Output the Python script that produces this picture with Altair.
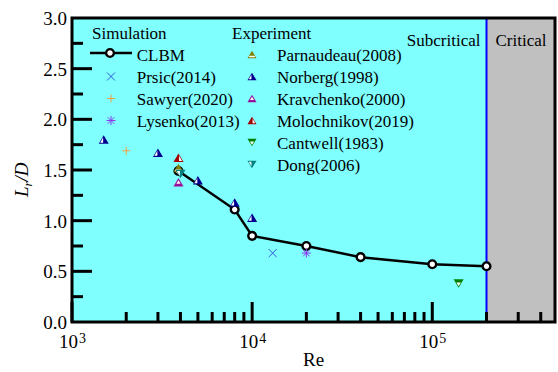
import altair as alt
import pandas as pd

# ---------------- data ----------------
# CLBM recirculation length vs Reynolds number
clbm_re = [3900, 8000, 10000, 20000, 40000, 100000, 200000]
clbm_lr = [1.49, 1.11, 0.85, 0.75, 0.64, 0.57, 0.55]

# other simulations
prsic_re, prsic_lr = [13000], [0.68]
sawyer_re, sawyer_lr = [2000], [1.69]
lysenko_re, lysenko_lr = [20000], [0.68]

# experiments
parnaudeau_re, parnaudeau_lr = [3900], [1.52]
norberg_re = [1500, 3000, 5000, 8000, 10000]
norberg_lr = [1.80, 1.67, 1.40, 1.18, 1.03]
kravchenko_re, kravchenko_lr = [3900], [1.38]
molochnikov_re, molochnikov_lr = [3900], [1.62]
cantwell_re, cantwell_lr = [140000], [0.38]
dong_re, dong_lr = [4000], [1.46]

# axis ticks and labels
x_major = [1000, 10000, 100000]
x_exponents = ["3", "4", "5"]
x_minor = [2000, 3000, 4000, 5000, 6000, 7000, 8000, 9000,
           20000, 30000, 40000, 50000, 60000, 70000, 80000, 90000,
           200000, 300000, 400000]
y_labels = [0.0, 0.5, 1.0, 1.5, 2.0, 2.5, 3.0]
y_major = [0.5, 1.0, 1.5, 2.0, 2.5]
y_minor = [0.25, 0.75, 1.25, 1.75, 2.25, 2.75]

# ---------------- layout ----------------
FONT = "Liberation Serif"
W, H = 483, 304
RE_MIN, RE_MAX, RE_CRIT = 1000, 480000, 200000

xsc = alt.Scale(type="log", domain=[RE_MIN, RE_MAX], nice=False)
ysc = alt.Scale(domain=[0, 3], nice=False, zero=False)


def X(field="re"):
    return alt.X(f"{field}:Q", scale=xsc, axis=None)


def Y(field="lr"):
    return alt.Y(f"{field}:Q", scale=ysc, axis=None)


def series_df(re, lr):
    return pd.DataFrame({"re": re, "lr": lr})


TRI_UP = "M0,-0.85L1,0.85L-1,0.85Z"
TRI_DN = "M-1,-0.85L1,-0.85L0,0.85Z"
CROSS_X = "M-1,-1L1,1M-1,1L1,-1"
PLUS = "M-1,0L1,0M0,-1L0,1"
STAR = "M-1,0L1,0M0,-1L0,1M-0.72,-0.72L0.72,0.72M-0.72,0.72L0.72,-0.72"

sim_series = [
    ("Prsic(2014)", prsic_re, prsic_lr, "#3355DD", CROSS_X, 64, 1.0),
    ("Sawyer(2020)", sawyer_re, sawyer_lr, "#F0A040", PLUS, 64, 1.0),
    ("Lysenko(2013)", lysenko_re, lysenko_lr, "#8A3CF0", STAR, 81, 1.0),
]

exp_series = [
    ("Parnaudeau(2008)", parnaudeau_re, parnaudeau_lr, "#808000", TRI_UP,
     "M-0.55,0.3L0.55,0.3L0.72,0.62L-0.72,0.62Z"),
    ("Norberg(1998)", norberg_re, norberg_lr, "#000090", TRI_UP,
     "M-0.12,-0.4L-0.12,0.62L-0.72,0.62Z"),
    ("Kravchenko(2000)", kravchenko_re, kravchenko_lr, "#9A109A", TRI_UP,
     "M0,-0.4L0.42,0.32L-0.42,0.32Z"),
    ("Molochnikov(2019)", molochnikov_re, molochnikov_lr, "#A00000", TRI_UP,
     "M0.12,-0.4L0.12,0.62L0.72,0.62Z"),
    ("Cantwell(1983)", cantwell_re, cantwell_lr, "#008000", TRI_DN,
     "M-0.45,-0.2L0.45,-0.2L0,0.55Z"),
    ("Dong(2006)", dong_re, dong_lr, "#008080", TRI_DN,
     "M-0.72,-0.62L-0.12,-0.62L-0.12,0.4Z"),
]
TRI_SIZE = 100

layers = []

# background regions (subcritical / critical)
regions = pd.DataFrame({
    "x0": [RE_MIN, RE_CRIT], "x1": [RE_CRIT, RE_MAX],
    "y0": [0, 0], "y1": [3, 3], "fill": ["#80FFFF", "#C0C0C0"],
})
layers.append(
    alt.Chart(regions).mark_rect().encode(
        x=X("x0"), x2="x1", y=Y("y0"), y2="y1",
        fill=alt.Fill("fill:N", scale=None),
    )
)

# boundary between regimes
layers.append(
    alt.Chart(pd.DataFrame({"re": [RE_CRIT]})).mark_rule(color="#0000FF", strokeWidth=2).encode(
        x=X(), y=alt.value(0), y2=alt.value(H))
)

# regime labels
regime = pd.DataFrame({"re": [RE_CRIT]})
layers.append(
    alt.Chart(regime).mark_text(text="Subcritical", align="right", baseline="alphabetic",
                                dx=-6, font=FONT, fontSize=17, color="black").encode(
        x=X(), y=alt.value(28))
)
layers.append(
    alt.Chart(regime).mark_text(text="Critical", align="left", baseline="alphabetic",
                                dx=9, font=FONT, fontSize=17, color="black").encode(
        x=X(), y=alt.value(28))
)

# inward ticks
layers.append(alt.Chart(pd.DataFrame({"re": x_major})).mark_rule(color="black", strokeWidth=3).encode(
    x=X(), y=alt.value(H), y2=alt.value(H - 20)))
layers.append(alt.Chart(pd.DataFrame({"re": x_minor})).mark_rule(color="black", strokeWidth=3).encode(
    x=X(), y=alt.value(H), y2=alt.value(H - 10)))
layers.append(alt.Chart(pd.DataFrame({"lr": y_major})).mark_rule(color="black", strokeWidth=3).encode(
    y=Y(), x=alt.value(0), x2=alt.value(20)))
layers.append(alt.Chart(pd.DataFrame({"lr": y_minor})).mark_rule(color="black", strokeWidth=3).encode(
    y=Y(), x=alt.value(0), x2=alt.value(11)))

# CLBM line with open circles
clbm = series_df(clbm_re, clbm_lr)
layers.append(alt.Chart(clbm).mark_line(color="black", strokeWidth=2.5).encode(
    x=X(), y=Y()))
layers.append(alt.Chart(clbm).mark_point(shape="circle", filled=True, fill="white", stroke="black",
                                         strokeWidth=2.4, size=60, opacity=1).encode(x=X(), y=Y()))

# other simulations
for label, re, lr, color, shape, size, sw in sim_series:
    layers.append(alt.Chart(series_df(re, lr)).mark_point(
        shape=shape, filled=False, color=color, size=size, strokeWidth=sw, opacity=1).encode(
        x=X(), y=Y()))

# experiments: coloured triangle with a white inset
for label, re, lr, color, shape, inset in exp_series:
    df = series_df(re, lr)
    layers.append(alt.Chart(df).mark_point(shape=shape, filled=True, color=color,
                                           size=TRI_SIZE, opacity=1).encode(x=X(), y=Y()))
    layers.append(alt.Chart(df).mark_point(shape=inset, filled=True, color="white",
                                           size=TRI_SIZE, opacity=1).encode(x=X(), y=Y()))

# frame
frame = pd.DataFrame({"x0": [RE_MIN], "x1": [RE_MAX], "y0": [0], "y1": [3]})
layers.append(alt.Chart(frame).mark_rect(fillOpacity=0, stroke="black", strokeWidth=3).encode(
    x=X("x0"), x2="x1", y=Y("y0"), y2="y1"))

# y tick labels
layers.append(alt.Chart(pd.DataFrame({"lr": y_labels})).mark_text(
    align="right", baseline="middle", dx=-5, dy=1, font=FONT, fontSize=19, color="black").encode(
    x=alt.value(0), y=Y(), text=alt.Text("lr:Q", format=".1f")))

# x tick labels: 10 with superscript exponent
xlab = pd.DataFrame({"re": x_major, "exp": x_exponents})
layers.append(alt.Chart(xlab).mark_text(text="10", align="right", baseline="alphabetic", dx=6,
                                        font=FONT, fontSize=19, color="black").encode(
    x=X(), y=alt.value(H + 26)))
layers.append(alt.Chart(xlab).mark_text(align="left", baseline="alphabetic", dx=7,
                                        font=FONT, fontSize=14, color="black").encode(
    x=X(), y=alt.value(H + 21), text="exp:N"))

one = pd.DataFrame({"k": [0]})


def text_at(txt, px, py, size=17, **kw):
    return alt.Chart(one).mark_text(text=txt, font=FONT, fontSize=size, color="black",
                                    baseline="alphabetic", **kw).encode(
        x=alt.value(px), y=alt.value(py))


# axis titles
layers.append(text_at("Re", W / 2, H + 44, size=19, align="center"))
layers.append(text_at("L", -44, 179, size=19, align="left", angle=270, fontStyle="italic"))
layers.append(text_at("r", -40, 168.5, size=13, align="left", angle=270, fontStyle="italic"))
layers.append(text_at("/D", -44, 163.5, size=19, align="left", angle=270, fontStyle="italic"))

# legend
ROW0, ROW_STEP = 43, 22
SIM_SYM_X, SIM_TXT_X, EXP_SYM_X, EXP_TXT_X = 39, 64.7, 180, 205
layers.append(text_at("Simulation", 20, 21, align="left"))
layers.append(text_at("Experiment", 160, 21, align="left"))

# CLBM legend entry
layers.append(alt.Chart(one).mark_rule(color="black", strokeWidth=2.5).encode(
    x=alt.value(18), x2=alt.value(60), y=alt.value(ROW0 - 8)))
layers.append(alt.Chart(one).mark_point(shape="circle", filled=True, fill="white", stroke="black",
                                        strokeWidth=2.4, size=60, opacity=1).encode(
    x=alt.value(SIM_SYM_X - 1), y=alt.value(ROW0 - 8)))
layers.append(text_at("CLBM", SIM_TXT_X, ROW0, align="left"))

for i, (label, re, lr, color, shape, size, sw) in enumerate(sim_series, start=1):
    yb = ROW0 + i * ROW_STEP
    layers.append(alt.Chart(one).mark_point(shape=shape, filled=False, color=color, size=size,
                                            strokeWidth=sw, opacity=1).encode(
        x=alt.value(SIM_SYM_X), y=alt.value(yb - 6.5)))
    layers.append(text_at(label, SIM_TXT_X, yb, align="left"))

for i, (label, re, lr, color, shape, inset) in enumerate(exp_series):
    yb = ROW0 + i * ROW_STEP
    layers.append(alt.Chart(one).mark_point(shape=shape, filled=True, color=color,
                                            size=81, opacity=1).encode(
        x=alt.value(EXP_SYM_X), y=alt.value(yb - 6.5)))
    layers.append(alt.Chart(one).mark_point(shape=inset, filled=True, color="white",
                                            size=81, opacity=1).encode(
        x=alt.value(EXP_SYM_X), y=alt.value(yb - 6.5)))
    layers.append(text_at(label, EXP_TXT_X, yb, align="left"))

chart = alt.layer(*layers).properties(
    width=W, height=H,
    autosize=alt.AutoSizeParams(type="none"),
    padding={"left": 72, "top": 18, "right": 3, "bottom": 50},
    background="white",
).configure_view(strokeWidth=0)

chart.save("out.html", embed_options={"renderer": "svg", "actions": False})
